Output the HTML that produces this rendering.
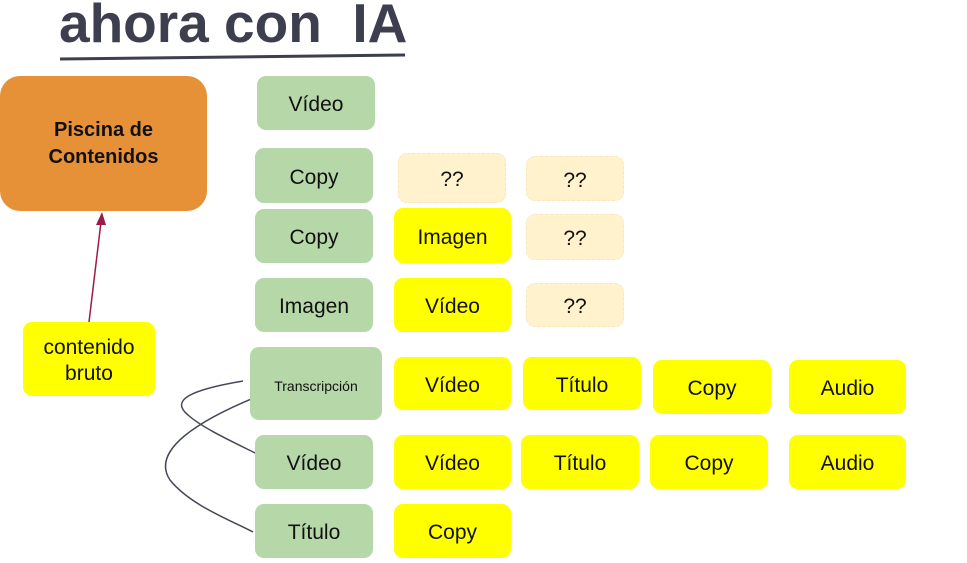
<!DOCTYPE html>
<html><head><meta charset="utf-8"><style>
body{margin:0;width:967px;height:563px;background:#fff;position:relative;overflow:hidden;font-family:"Liberation Sans",sans-serif;}
.b{position:absolute;display:flex;align-items:center;justify-content:center;text-align:center;border-radius:9px;font-size:21px;color:#111;box-sizing:border-box;padding-top:4px;}
.g{background:#b6d7a8}.y{background:#ffff00}.p{background:#fff2cc;border:1px dashed #f8e8c0}
</style></head><body>
<div style="position:absolute;left:59px;top:-9px;font-size:55px;color:#3d3f4e;letter-spacing:0px;font-weight:bold;">ahora con&nbsp; IA</div>
<svg style="position:absolute;left:0;top:0" width="967" height="563">
<line x1="60" y1="59" x2="405" y2="55" stroke="#3d3f4e" stroke-width="3"/>
<line x1="89" y1="322" x2="101" y2="222" stroke="#9b1b4b" stroke-width="1.5"/>
<polygon points="102,212 96,225 106,225" fill="#9b1b4b"/>
<path d="M243,381 C190,390 170,400 188,415 C205,430 240,445 265,458" fill="none" stroke="#444857" stroke-width="1.5"/>
<path d="M256,397 C200,420 150,450 170,480 C190,505 230,520 253,532" fill="none" stroke="#444857" stroke-width="1.5"/>
</svg>
<div class="b" style="left:0;top:76px;width:207px;height:135px;background:#e69138;border-radius:20px;font-weight:bold;font-size:20px;line-height:27px;padding-top:0">Piscina de<br>Contenidos</div>
<div class="b y" style="left:23px;top:322px;width:132px;height:74px;line-height:26px;">contenido<br>bruto</div>
<div class="b g" style="left:257px;top:76px;width:118px;height:54px">Vídeo</div>
<div class="b g" style="left:255px;top:148px;width:118px;height:55px">Copy</div>
<div class="b g" style="left:255px;top:209px;width:118px;height:54px">Copy</div>
<div class="b g" style="left:255px;top:278px;width:118px;height:54px">Imagen</div>
<div class="b g" style="left:250px;top:347px;width:132px;height:73px;font-size:14px">Transcripción</div>
<div class="b g" style="left:255px;top:435px;width:118px;height:54px">Vídeo</div>
<div class="b g" style="left:255px;top:504px;width:118px;height:54px">Título</div>
<div class="b p" style="left:398px;top:153px;width:108px;height:50px">??</div>
<div class="b p" style="left:526px;top:156px;width:98px;height:45px">??</div>
<div class="b p" style="left:526px;top:214px;width:98px;height:46px">??</div>
<div class="b p" style="left:526px;top:283px;width:98px;height:44px">??</div>
<div class="b y" style="left:394px;top:208px;width:117px;height:55px">Imagen</div>
<div class="b y" style="left:394px;top:278px;width:117px;height:54px">Vídeo</div>
<div class="b y" style="left:394px;top:357px;width:117px;height:53px">Vídeo</div>
<div class="b y" style="left:523px;top:357px;width:118px;height:53px">Título</div>
<div class="b y" style="left:653px;top:360px;width:118px;height:54px">Copy</div>
<div class="b y" style="left:789px;top:360px;width:117px;height:54px">Audio</div>
<div class="b y" style="left:394px;top:435px;width:117px;height:54px">Vídeo</div>
<div class="b y" style="left:521px;top:435px;width:118px;height:54px">Título</div>
<div class="b y" style="left:650px;top:435px;width:118px;height:54px">Copy</div>
<div class="b y" style="left:789px;top:435px;width:117px;height:54px">Audio</div>
<div class="b y" style="left:394px;top:504px;width:117px;height:54px">Copy</div>
</body></html>
